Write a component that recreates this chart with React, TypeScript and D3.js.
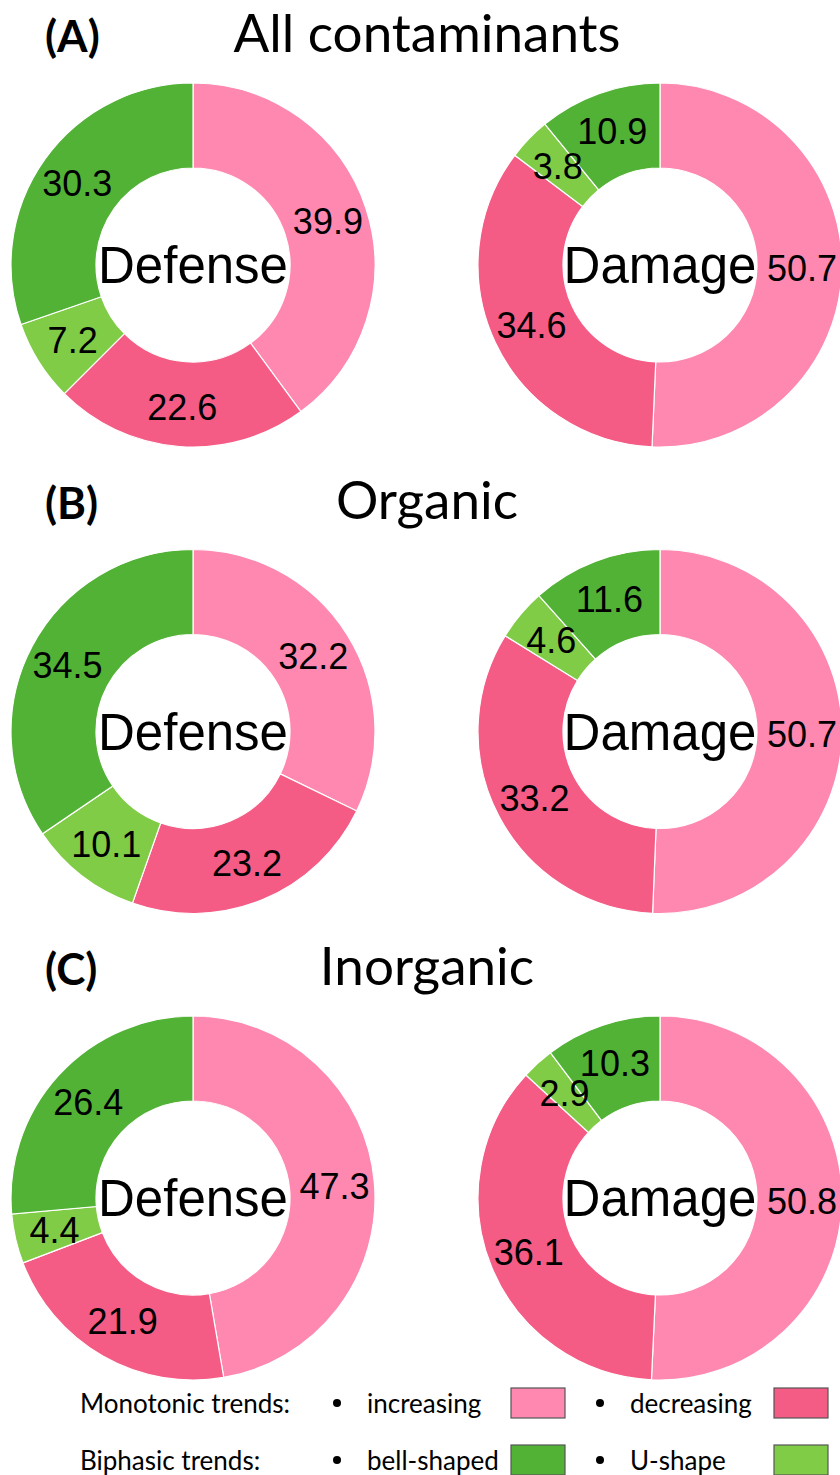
import React from 'react';
import * as d3 from 'd3';

// slice order, clockwise from 12 o'clock
const categories = ['increasing', 'decreasing', 'U-shape', 'bell-shaped'];
const panelTags = ['(A)', '(B)', '(C)'];
const panelTitles = ['All contaminants', 'Organic', 'Inorganic'];
const defenseValues = [
  [39.9, 22.6, 7.2, 30.3],
  [32.2, 23.2, 10.1, 34.5],
  [47.3, 21.9, 4.4, 26.4],
];
const damageValues = [
  [50.7, 34.6, 3.8, 10.9],
  [50.7, 33.2, 4.6, 11.6],
  [50.8, 36.1, 2.9, 10.3],
];
const legendRows = [
  { title: 'Monotonic trends:', items: ['increasing', 'decreasing'] },
  { title: 'Biphasic trends:', items: ['bell-shaped', 'U-shape'] },
];

const W = 840;
const H = 1475;

const color = d3
  .scaleOrdinal<string, string>()
  .domain(categories)
  .range(['#ff88b0', '#f45b85', '#80cc46', '#52b236']);

const outerR = 182;
const innerR = 97;
const labelR = 142;
const panelStep = 466.5;
const firstCy = 265;

const arc = d3.arc<d3.PieArcDatum<number>>().innerRadius(innerR).outerRadius(outerR);
const labelArc = d3.arc<d3.PieArcDatum<number>>().innerRadius(labelR).outerRadius(labelR);
const pie = d3.pie<number>().sort(null).value((d) => d);

const labelFont = "'Liberation Sans', Arial, sans-serif";
const titleFont = "Lato, 'Open Sans', sans-serif";

function Donut({ cx, cy, values, name }: { cx: number; cy: number; values: number[]; name: string }) {
  const slices = pie(values);
  return (
    <g transform={`translate(${cx},${cy})`}>
      {slices.map((s, i) => (
        <path key={i} d={arc(s) || ''} fill={color(categories[i])} stroke="#fff" strokeWidth={1.2} />
      ))}
      {slices.map((s, i) => {
        const [x, y] = labelArc.centroid(s);
        return (
          <text key={'l' + i} x={x} y={y} dy="0.36em" textAnchor="middle"
            style={{ fontFamily: labelFont, fontSize: 36 }} fill="#000">
            {s.data.toFixed(1)}
          </text>
        );
      })}
      <text x={0} y={0} dy="0.36em" textAnchor="middle" style={{ fontFamily: labelFont, fontSize: 51 }} fill="#000">
        {name}
      </text>
    </g>
  );
}

export default function App() {
  return (
    <svg width={W} height={H} style={{ position: 'absolute', left: 0, top: 0, background: '#fff' }}>
      <rect width={W} height={H} fill="#fff" />
      {panelTitles.map((t, p) => {
        const cy = firstCy + p * panelStep;
        return (
          <g key={t}>
            <text x={45} y={cy - 213} style={{ fontFamily: titleFont, fontWeight: 'bold', fontSize: 44 }} fill="#000">
              {panelTags[p]}
            </text>
            <text x={427} y={cy - 213} textAnchor="middle" style={{ fontFamily: titleFont, fontSize: 53 }} fill="#000">
              {t}
            </text>
            <Donut cx={193} cy={cy} values={defenseValues[p]} name="Defense" />
            <Donut cx={660} cy={cy} values={damageValues[p]} name="Damage" />
          </g>
        );
      })}
      {legendRows.map((row, r) => {
        const base = 1413 + r * 57;
        return (
          <g key={row.title} style={{ fontFamily: titleFont, fontSize: 26 }} fill="#000">
            <text x={80} y={base}>{row.title}</text>
            {row.items.map((item, k) => {
              const x0 = 337 + k * 263;
              return (
                <g key={item}>
                  <circle cx={x0} cy={base - 10} r={4} fill="#000" />
                  <text x={x0 + 30} y={base}>{item}</text>
                  <rect x={x0 + 174} y={base - 25} width={54} height={30}
                    fill={color(item)} stroke="#555" strokeWidth={1.2} />
                </g>
              );
            })}
          </g>
        );
      })}
    </svg>
  );
}
